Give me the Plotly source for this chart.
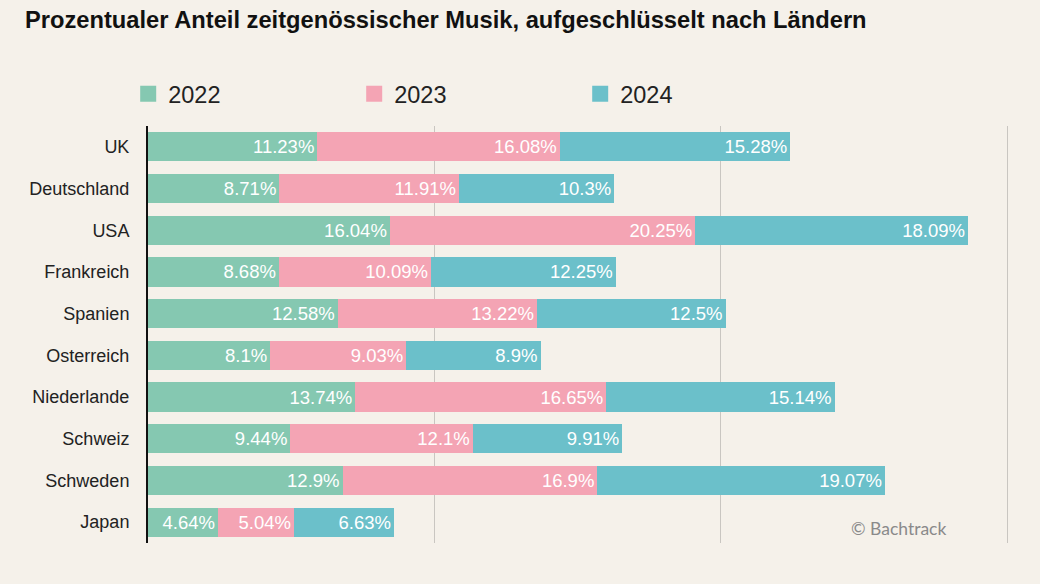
import plotly.graph_objects as go

countries = ["UK", "Deutschland", "USA", "Frankreich", "Spanien", "Osterreich",
             "Niederlande", "Schweiz", "Schweden", "Japan"]
v2022 = [11.23, 8.71, 16.04, 8.68, 12.58, 8.1, 13.74, 9.44, 12.9, 4.64]
v2023 = [16.08, 11.91, 20.25, 10.09, 13.22, 9.03, 16.65, 12.1, 16.9, 5.04]
v2024 = [15.28, 10.3, 18.09, 12.25, 12.5, 8.9, 15.14, 9.91, 19.07, 6.63]
years = ["2022", "2023", "2024"]
colors = ["#85C8B1", "#F4A4B4", "#6BC0CA"]

FONT = "Liberation Sans, Arial, Helvetica, sans-serif"
fig = go.Figure()
for name, vals, col in zip(years, [v2022, v2023, v2024], colors):
    fig.add_trace(go.Bar(
        y=countries, x=vals, orientation="h", name=name,
        marker=dict(color=col, line=dict(width=0)),
        text=[f"{v:g}%" for v in vals], textposition="inside",
        insidetextanchor="end", textangle=0,
        textfont=dict(color="white", size=18.5, family=FONT),
        showlegend=False, hoverinfo="skip",
    ))
    fig.add_trace(go.Scatter(
        x=[None], y=[None], mode="markers", name=name,
        marker=dict(symbol="square", size=17, color=col),
        showlegend=True,
    ))

fig.update_layout(
    barmode="stack", bargap=0.3,
    width=1040, height=584,
    paper_bgcolor="#F5F1EA", plot_bgcolor="#F5F1EA",
    margin=dict(l=148, r=31, t=126, b=41),
    title=dict(text="<b>Prozentualer Anteil zeitgenössischer Musik, aufgeschlüsselt nach Ländern</b>",
               x=25 / 1040, xanchor="left", y=1 - 20 / 584, yanchor="middle",
               font=dict(size=23.7, color="#111", family=FONT)),
    legend=dict(orientation="h", x=-0.023, xanchor="left", y=1.077, yanchor="middle",
                traceorder="normal",
                entrywidth=181, entrywidthmode="pixels", itemsizing="trace",
                font=dict(size=23.5, color="#222", family=FONT), bgcolor="rgba(0,0,0,0)"),
    xaxis=dict(range=[0, 57.1], tickvals=[19, 38, 57], showticklabels=False,
               showgrid=True, gridcolor="#C9C6C1", gridwidth=1, zeroline=False,
               fixedrange=True),
    yaxis=dict(autorange="reversed", showline=True, linecolor="#111", linewidth=2,
               ticks="", ticklabelstandoff=13, tickfont=dict(size=18, color="#222", family=FONT),
               showgrid=False, fixedrange=True),
    uniformtext=dict(mode="show", minsize=10),
    font=dict(family=FONT),
)
fig.add_annotation(text="© Bachtrack", xref="paper", yref="paper",
                   x=(948 - 148) / 861, y=(543 - 528) / 417,
                   xanchor="right", yanchor="middle", showarrow=False,
                   font=dict(size=17.5, color="#8A8A8A", family="Lato, Noto Sans, sans-serif"))

fig.write_html("out.html")
